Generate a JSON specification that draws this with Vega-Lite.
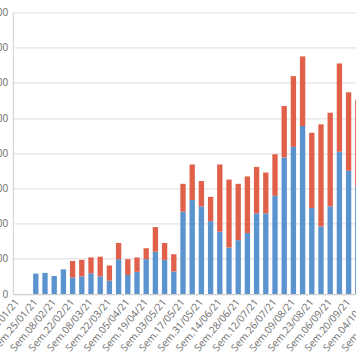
{
  "$schema": "https://vega.github.io/schema/vega-lite/v6.json",
  "autosize": "none",
  "width": 343.2,
  "height": 281.6,
  "padding": {"left": 12.8, "top": 12.4, "right": 0, "bottom": 70},
  "background": "white",
  "config": {"view": {"stroke": null}, "font": "Open Sans"},
  "data": {
    "values": [
      {"week": "Sem.25/01/21", "serie": "S1", "value": 58},
      {"week": "Sem.01/02/21", "serie": "S1", "value": 60},
      {"week": "Sem.08/02/21", "serie": "S1", "value": 51},
      {"week": "Sem.15/02/21", "serie": "S1", "value": 70},
      {"week": "Sem.22/02/21", "serie": "S1", "value": 47},
      {"week": "Sem.22/02/21", "serie": "S2", "value": 47},
      {"week": "Sem.01/03/21", "serie": "S1", "value": 50},
      {"week": "Sem.01/03/21", "serie": "S2", "value": 47},
      {"week": "Sem.08/03/21", "serie": "S1", "value": 59},
      {"week": "Sem.08/03/21", "serie": "S2", "value": 45},
      {"week": "Sem.15/03/21", "serie": "S1", "value": 50},
      {"week": "Sem.15/03/21", "serie": "S2", "value": 56},
      {"week": "Sem.22/03/21", "serie": "S1", "value": 38},
      {"week": "Sem.22/03/21", "serie": "S2", "value": 43},
      {"week": "Sem.29/03/21", "serie": "S1", "value": 99},
      {"week": "Sem.29/03/21", "serie": "S2", "value": 46},
      {"week": "Sem.05/04/21", "serie": "S1", "value": 54},
      {"week": "Sem.05/04/21", "serie": "S2", "value": 45},
      {"week": "Sem.12/04/21", "serie": "S1", "value": 63},
      {"week": "Sem.12/04/21", "serie": "S2", "value": 41},
      {"week": "Sem.19/04/21", "serie": "S1", "value": 99},
      {"week": "Sem.19/04/21", "serie": "S2", "value": 31},
      {"week": "Sem.26/04/21", "serie": "S1", "value": 120},
      {"week": "Sem.26/04/21", "serie": "S2", "value": 70},
      {"week": "Sem.03/05/21", "serie": "S1", "value": 97},
      {"week": "Sem.03/05/21", "serie": "S2", "value": 48},
      {"week": "Sem.10/05/21", "serie": "S1", "value": 64},
      {"week": "Sem.10/05/21", "serie": "S2", "value": 49},
      {"week": "Sem.17/05/21", "serie": "S1", "value": 234},
      {"week": "Sem.17/05/21", "serie": "S2", "value": 79},
      {"week": "Sem.24/05/21", "serie": "S1", "value": 267},
      {"week": "Sem.24/05/21", "serie": "S2", "value": 101},
      {"week": "Sem.31/05/21", "serie": "S1", "value": 249},
      {"week": "Sem.31/05/21", "serie": "S2", "value": 72},
      {"week": "Sem.07/06/21", "serie": "S1", "value": 207},
      {"week": "Sem.07/06/21", "serie": "S2", "value": 69},
      {"week": "Sem.14/06/21", "serie": "S1", "value": 177},
      {"week": "Sem.14/06/21", "serie": "S2", "value": 191},
      {"week": "Sem.21/06/21", "serie": "S1", "value": 132},
      {"week": "Sem.21/06/21", "serie": "S2", "value": 193},
      {"week": "Sem.28/06/21", "serie": "S1", "value": 153},
      {"week": "Sem.28/06/21", "serie": "S2", "value": 160},
      {"week": "Sem.05/07/21", "serie": "S1", "value": 173},
      {"week": "Sem.05/07/21", "serie": "S2", "value": 161},
      {"week": "Sem.12/07/21", "serie": "S1", "value": 229},
      {"week": "Sem.12/07/21", "serie": "S2", "value": 132},
      {"week": "Sem.19/07/21", "serie": "S1", "value": 229},
      {"week": "Sem.19/07/21", "serie": "S2", "value": 116},
      {"week": "Sem.26/07/21", "serie": "S1", "value": 279},
      {"week": "Sem.26/07/21", "serie": "S2", "value": 118},
      {"week": "Sem.02/08/21", "serie": "S1", "value": 388},
      {"week": "Sem.02/08/21", "serie": "S2", "value": 146},
      {"week": "Sem.09/08/21", "serie": "S1", "value": 418},
      {"week": "Sem.09/08/21", "serie": "S2", "value": 201},
      {"week": "Sem.16/08/21", "serie": "S1", "value": 477},
      {"week": "Sem.16/08/21", "serie": "S2", "value": 198},
      {"week": "Sem.23/08/21", "serie": "S1", "value": 244},
      {"week": "Sem.23/08/21", "serie": "S2", "value": 214},
      {"week": "Sem.30/08/21", "serie": "S1", "value": 192},
      {"week": "Sem.30/08/21", "serie": "S2", "value": 290},
      {"week": "Sem.06/09/21", "serie": "S1", "value": 249},
      {"week": "Sem.06/09/21", "serie": "S2", "value": 266},
      {"week": "Sem.13/09/21", "serie": "S1", "value": 404},
      {"week": "Sem.13/09/21", "serie": "S2", "value": 251},
      {"week": "Sem.20/09/21", "serie": "S1", "value": 350},
      {"week": "Sem.20/09/21", "serie": "S2", "value": 223},
      {"week": "Sem.27/09/21", "serie": "S1", "value": 305},
      {"week": "Sem.27/09/21", "serie": "S2", "value": 246}
    ]
  },
  "mark": {"type": "bar"},
  "encoding": {
    "x": {
      "field": "week",
      "type": "nominal",
      "scale": {
        "domain": ["Sem.11/01/21","Sem.18/01/21","Sem.25/01/21","Sem.01/02/21","Sem.08/02/21","Sem.15/02/21","Sem.22/02/21","Sem.01/03/21","Sem.08/03/21","Sem.15/03/21","Sem.22/03/21","Sem.29/03/21","Sem.05/04/21","Sem.12/04/21","Sem.19/04/21","Sem.26/04/21","Sem.03/05/21","Sem.10/05/21","Sem.17/05/21","Sem.24/05/21","Sem.31/05/21","Sem.07/06/21","Sem.14/06/21","Sem.21/06/21","Sem.28/06/21","Sem.05/07/21","Sem.12/07/21","Sem.19/07/21","Sem.26/07/21","Sem.02/08/21","Sem.09/08/21","Sem.16/08/21","Sem.23/08/21","Sem.30/08/21","Sem.06/09/21","Sem.13/09/21","Sem.20/09/21","Sem.27/09/21","Sem.04/10/21","Sem.11/10/21","Sem.18/10/21"],
        "range": [0, 377.2],
        "paddingInner": 0.42,
        "paddingOuter": 0.21
      },
      "axis": {
        "title": null,
        "values": ["Sem.11/01/21","Sem.25/01/21","Sem.08/02/21","Sem.22/02/21","Sem.08/03/21","Sem.22/03/21","Sem.05/04/21","Sem.19/04/21","Sem.03/05/21","Sem.17/05/21","Sem.31/05/21","Sem.14/06/21","Sem.28/06/21","Sem.12/07/21","Sem.26/07/21","Sem.09/08/21","Sem.23/08/21","Sem.06/09/21","Sem.20/09/21","Sem.04/10/21","Sem.18/10/21"],
        "labelAngle": -50,
        "labelAlign": "right",
        "labelBaseline": "middle",
        "labelPadding": 6,
        "labelFontSize": 10,
        "labelColor": "#6b6b6b",
        "labelOverlap": false,
        "ticks": false,
        "domainColor": "#d0d0d0",
        "grid": false
      }
    },
    "y": {
      "field": "value",
      "type": "quantitative",
      "stack": "zero",
      "scale": {"domain": [0, 800], "nice": false},
      "axis": {
        "title": null,
        "values": [0,100,200,300,400,500,600,700,800],
        "ticks": false,
        "labelPadding": 5,
        "labelFontSize": 10,
        "labelColor": "#6b6b6b",
        "gridColor": "#dcdcdc",
        "domainColor": "#d0d0d0"
      }
    },
    "color": {
      "field": "serie",
      "type": "nominal",
      "scale": {"domain": ["S1","S2"], "range": ["#5b93cf","#e0604a"]},
      "legend": null
    },
    "order": {"field": "serie", "sort": "ascending"}
  }
}
